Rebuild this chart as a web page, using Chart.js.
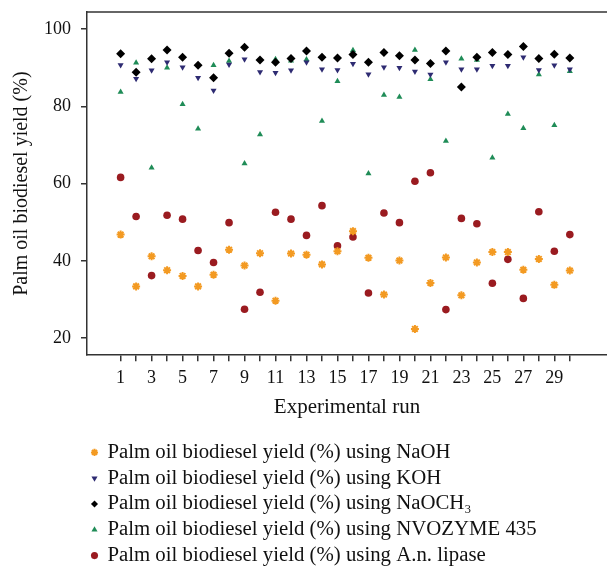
<!DOCTYPE html>
<html>
<head>
<meta charset="utf-8">
<script src="https://cdn.jsdelivr.net/npm/chart.js@4.4.0/dist/chart.umd.min.js"></script>
<style>
  html, body { margin: 0; padding: 0; background: #fff; overflow: hidden; }
  #wrap { width: 607px; height: 571px; }
  canvas { display: block; }
</style>
</head>
<body>
<div id="wrap"><canvas id="yieldChart" width="607" height="571"></canvas></div>
<script>
const runs = [1, 2, 3, 4, 5, 6, 7, 8, 9, 10, 11, 12, 13, 14, 15, 16, 17, 18, 19, 20, 21, 22, 23, 24, 25, 26, 27, 28, 29, 30];
const naohYield = [46.8, 33.4, 41.2, 37.6, 36.1, 33.4, 36.4, 42.9, 38.8, 42.0, 29.7, 41.9, 41.6, 39.1, 42.5, 47.7, 40.8, 31.3, 40.1, 22.4, 34.3, 40.9, 31.1, 39.6, 42.3, 42.3, 37.7, 40.5, 33.8, 37.5];
const kohYield = [90.7, 87.1, 89.3, 91.4, 90.1, 87.4, 84.1, 90.8, 92.2, 88.9, 88.7, 89.3, 91.4, 89.6, 89.4, 91.0, 88.3, 90.1, 90.0, 89.0, 88.2, 91.4, 89.6, 89.6, 90.5, 90.5, 92.7, 89.4, 90.6, 89.6];
const naoch3Yield = [93.6, 88.8, 92.3, 94.6, 92.7, 90.6, 87.4, 93.7, 95.3, 92.0, 91.4, 92.4, 94.3, 92.7, 92.5, 93.4, 91.4, 93.9, 93.1, 92.0, 91.1, 94.3, 85.0, 92.7, 93.9, 93.4, 95.5, 92.4, 93.5, 92.5];
const novozymeYield = [83.7, 91.3, 64.1, 90.0, 80.5, 74.2, 90.6, 91.7, 65.2, 72.7, 92.2, 91.8, 92.1, 76.2, 86.5, 94.5, 62.6, 82.9, 82.4, 94.6, 87.0, 71.0, 92.3, 92.0, 66.7, 78.0, 74.3, 88.2, 75.1, 89.1];
const lipaseYield = [61.6, 51.5, 36.2, 51.8, 50.8, 42.7, 39.6, 49.9, 27.5, 31.9, 52.6, 50.8, 46.6, 54.3, 43.9, 46.2, 31.7, 52.4, 49.9, 60.6, 62.8, 27.4, 51.0, 49.6, 34.2, 40.4, 30.3, 52.7, 42.5, 46.8];
const yTicks = [20, 40, 60, 80, 100];

const serif = "'Liberation Serif', 'DejaVu Serif', serif";

function toPoints(values) {
  return values.map((v, i) => ({ x: runs[i], y: v }));
}

// top border of the plot frame
const frameTop = {
  id: 'frameTop',
  afterDraw(chart) {
    const { ctx, chartArea } = chart;
    ctx.save();
    ctx.strokeStyle = '#333';
    ctx.lineWidth = 1.5;
    ctx.beginPath();
    ctx.moveTo(chartArea.left, chartArea.top);
    ctx.lineTo(chartArea.right, chartArea.top);
    ctx.stroke();
    ctx.restore();
  }
};

const ctx = document.getElementById('yieldChart').getContext('2d');

new Chart(ctx, {
  type: 'scatter',
  data: {
    datasets: [
      {
        label: 'Palm oil biodiesel yield (%) using NaOH',
        data: toPoints(naohYield),
        pointStyle: 'star',
        pointRadius: 4,
        borderColor: '#f39a22',
        backgroundColor: '#f39a22',
        pointBorderWidth: 2
      },
      {
        label: 'Palm oil biodiesel yield (%) using KOH',
        data: toPoints(kohYield),
        pointStyle: 'triangle',
        rotation: 180,
        pointRadius: 3.5,
        borderColor: '#2e2b72',
        backgroundColor: '#2e2b72',
        pointBorderWidth: 0
      },
      {
        label: 'Palm oil biodiesel yield (%) using NaOCH\u2083',
        data: toPoints(naoch3Yield),
        pointStyle: 'rectRot',
        pointRadius: 4.5,
        borderColor: '#000',
        backgroundColor: '#000',
        pointBorderWidth: 0
      },
      {
        label: 'Palm oil biodiesel yield (%) using NVOZYME 435',
        data: toPoints(novozymeYield),
        pointStyle: 'triangle',
        pointRadius: 3.5,
        borderColor: '#1f8c57',
        backgroundColor: '#1f8c57',
        pointBorderWidth: 0
      },
      {
        label: 'Palm oil biodiesel yield (%) using A.n. lipase',
        data: toPoints(lipaseYield),
        pointStyle: 'circle',
        pointRadius: 3.8,
        borderColor: '#9a1b20',
        backgroundColor: '#9a1b20',
        pointBorderWidth: 0
      }
    ]
  },
  options: {
    responsive: false,
    animation: false,
    layout: { autoPadding: false, padding: { left: 4, right: 0, top: 12, bottom: -5 } },
    scales: {
      x: {
        type: 'linear',
        min: -1.17,
        max: 32.4,
        border: { display: true, color: '#333', width: 1.5 },
        grid: { drawOnChartArea: false, drawTicks: true, tickLength: 6, color: '#333', lineWidth: 1.5 },
        afterBuildTicks: axis => {
          axis.ticks = runs.map(r => ({ value: r }));
        },
        ticks: {
          autoSkip: false,
          maxRotation: 0,
          color: '#111',
          font: { family: serif, size: 18 },
          padding: 6,
          callback: value => (value % 2 === 1 && value <= 29 ? String(value) : '')
        },
        title: {
          display: true,
          text: 'Experimental run',
          color: '#111',
          font: { family: serif, size: 21 },
          padding: { top: 0, bottom: 17 }
        },
        afterFit: axis => {
          axis.paddingLeft = 0;
          axis.paddingRight = 0;
        }
      },
      y: {
        min: 15.6,
        max: 104.4,
        border: { display: true, color: '#333', width: 1.5 },
        grid: { drawOnChartArea: false, drawTicks: true, tickLength: 6, color: '#333', lineWidth: 1.5 },
        afterBuildTicks: axis => {
          axis.ticks = yTicks.map(v => ({ value: v }));
        },
        ticks: {
          color: '#111',
          font: { family: serif, size: 18 },
          padding: 10
        },
        title: {
          display: true,
          text: 'Palm oil biodiesel yield (%)',
          color: '#111',
          font: { family: serif, size: 20 },
          padding: { top: 6, bottom: 6 }
        },
        afterFit: axis => {
          axis.width = 83;
          axis.paddingTop = 0;
          axis.paddingBottom = 0;
        }
      }
    },
    plugins: {
      legend: {
        position: 'bottom',
        align: 'start',
        fullSize: false,
        labels: {
          usePointStyle: true,
          boxWidth: 5,
          boxHeight: 5,
          padding: 5,
          color: '#111',
          font: { family: serif, size: 20.8 }
        }
      },
      tooltip: { enabled: false }
    }
  },
  plugins: [frameTop]
});
</script>
</body>
</html>
